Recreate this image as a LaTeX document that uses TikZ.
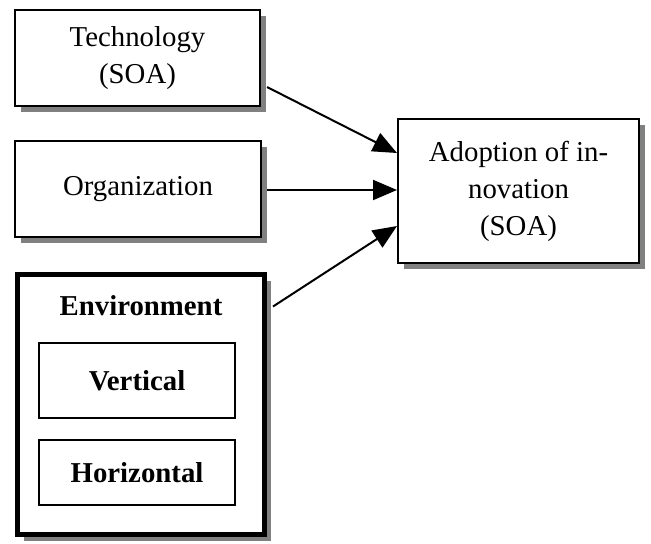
\documentclass[tikz,border=0pt]{standalone}
\usepackage{fontspec}
\setmainfont{Liberation Serif}
\usetikzlibrary{arrows.meta,shadows}
\begin{document}
\begin{tikzpicture}[x=0.5pt,y=-0.5pt,
  every node/.style={font=\fontsize{14.4pt}{18.5pt}\selectfont, align=center, inner sep=0pt},
  shadowbox/.style={draw, line width=1pt, fill=white,
    drop shadow={shadow xshift=3pt, shadow yshift=-3pt, fill=black!50, opacity=1}},
  plainbox/.style={draw, line width=0.8pt, fill=white},
  conn/.style={line width=1pt, -{Triangle[length=12pt,width=10pt]}}]
\useasboundingbox (0,0) rectangle (651,543);
\node[shadowbox, minimum width=122.5pt, minimum height=48pt] (tech) at (137.5,58) {Technology\\(SOA)};
\node[shadowbox, minimum width=123pt, minimum height=48pt] (org) at (138,189) {Organization};
\node[shadowbox, line width=2.5pt, minimum width=123.5pt, minimum height=130pt] (env) at (141,404.5) {};
\node[font=\fontsize{14.4pt}{18.5pt}\selectfont\bfseries] (envlabel) at (141,306) {Environment};
\node[plainbox, minimum width=98pt, minimum height=37.5pt, font=\fontsize{14.4pt}{18.5pt}\selectfont\bfseries] (vert) at (137,380.5) {Vertical};
\node[plainbox, minimum width=98pt, minimum height=32.5pt, font=\fontsize{14.4pt}{18.5pt}\selectfont\bfseries] (hor) at (137,472.5) {Horizontal};
\node[shadowbox, minimum width=120.5pt, minimum height=72pt] (adopt) at (518.5,191) {Adoption of in-\\novation\\(SOA)};
\draw[conn] ([xshift=3pt,yshift=-14.5pt]tech.east) -- ([yshift=19pt]adopt.west);
\draw[conn] ([xshift=2.5pt,yshift=-0.5pt]org.east) -- ([yshift=0.5pt]adopt.west);
\draw[conn] ([xshift=3pt,yshift=49pt]env.east) -- ([yshift=-17.5pt]adopt.west);
\end{tikzpicture}
\end{document}
